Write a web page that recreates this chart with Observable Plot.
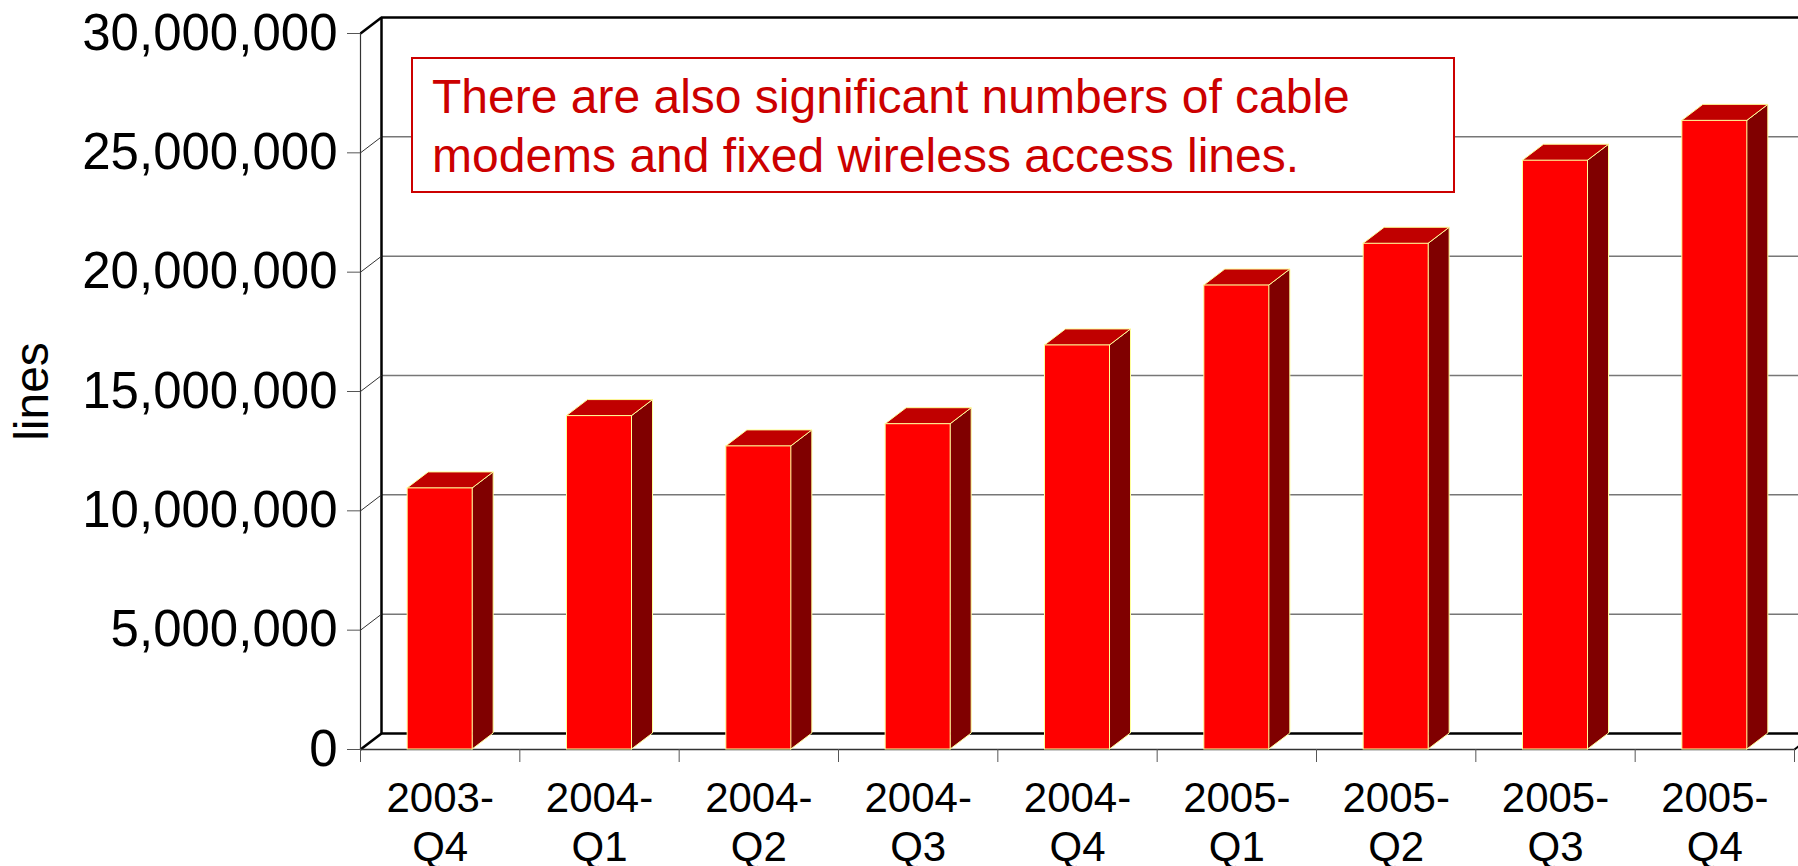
<!DOCTYPE html>
<html>
<head>
<meta charset="utf-8">
<script src="https://cdn.jsdelivr.net/npm/d3@7"></script>
<script src="https://cdn.jsdelivr.net/npm/@observablehq/plot@0.6"></script>
<style>
  body { margin: 0; background: #fff; }
  #wrap { position: relative; width: 1798px; height: 866px; overflow: hidden; }
  #note {
    position: absolute; left: 411px; top: 57px; width: 1044px; height: 136px;
    box-sizing: border-box; border: 2px solid #cc0000; background: #fff; color: #cc0000;
    font: 48px/59px "Liberation Sans", Arial, sans-serif; padding: 8px 0 0 19px; white-space: nowrap;
  }
</style>
</head>
<body>
<div id="wrap"><div id="chart"></div><div id="note"></div></div>
<script>
// ---- data ----
const categories = ["2003-Q4", "2004-Q1", "2004-Q2", "2004-Q3", "2004-Q4", "2005-Q1", "2005-Q2", "2005-Q3", "2005-Q4"];
const lineCounts = [10940000, 13970000, 12700000, 13630000, 16930000, 19440000, 21190000, 24670000, 26340000];
const yTicks = [0, 5000000, 10000000, 15000000, 20000000, 25000000, 30000000];
const yLabel = "lines";
const noteLines = ["There are also significant numbers of cable", "modems and fixed wireless access lines."];

// ---- style constants ----
const DX = 0.1318;   // 3D depth, in category units
const DY = 670000;   // 3D depth, in value units
const HALF = 0.204;  // half bar width, in category units
const FONT = "'Liberation Sans', Arial, sans-serif";
const EDGE = "#ffff99";

const bars = categories.map((c, i) => ({c, i, v: lineCounts[i]}));
const sideData = bars.flatMap(b => [
  {c: b.c, x: b.i + 0.5 + HALF, y1: 0, y2: b.v},
  {c: b.c, x: b.i + 0.5 + HALF + DX, y1: DY, y2: b.v + DY}
]);
const topData = bars.flatMap(b => [
  {c: b.c, y: b.v, x1: b.i + 0.5 - HALF, x2: b.i + 0.5 + HALF},
  {c: b.c, y: b.v + DY, x1: b.i + 0.5 - HALF + DX, x2: b.i + 0.5 + HALF + DX}
]);
const n = categories.length;
const yMax = yTicks[yTicks.length - 1];
const inner = yTicks.filter(t => t > 0 && t < yMax);

const chart = Plot.plot({
  width: 1798,
  height: 866,
  marginLeft: 360,
  marginRight: 4,
  marginTop: 33,
  marginBottom: 117,
  style: {fontFamily: FONT, background: "#fff", overflow: "visible"},
  x: {type: "linear", domain: [0, n], axis: null},
  y: {domain: [0, yMax], axis: null},
  marks: [
    // back wall gridlines
    Plot.ruleY(inner, {y: t => t + DY, x1: DX, x2: n + 1, stroke: "#777", strokeWidth: 1.5}),
    Plot.ruleY([0, yMax], {y: t => t + DY, x1: DX, x2: n + 1, stroke: "#000", strokeWidth: 2.5}),
    Plot.ruleX([DX], {y1: DY, y2: yMax + DY, stroke: "#000", strokeWidth: 2.5}),
    // left side wall diagonals
    Plot.link(inner, {x1: 0, y1: t => t, x2: DX, y2: t => t + DY, stroke: "#333", strokeWidth: 1}),
    Plot.link([0, yMax], {x1: 0, y1: t => t, x2: DX, y2: t => t + DY, stroke: "#000", strokeWidth: 2.5}),
    Plot.link([0], {x1: n, y1: 0, x2: n + DX, y2: DY, stroke: "#000", strokeWidth: 2}),
    // front axis lines
    Plot.ruleX([0], {y1: 0, y2: yMax, stroke: "#333", strokeWidth: 1.2}),
    Plot.ruleY([0], {x1: 0, x2: n, stroke: "#333", strokeWidth: 1.5}),
    // bars: side, top, front
    Plot.areaY(sideData, {x: "x", y1: "y1", y2: "y2", z: "c", fill: "#800000", stroke: EDGE, strokeWidth: 1}),
    Plot.areaX(topData, {y: "y", x1: "x1", x2: "x2", z: "c", fill: "#c00000", stroke: EDGE, strokeWidth: 1}),
    Plot.rectY(bars, {x1: b => b.i + 0.5 - HALF, x2: b => b.i + 0.5 + HALF, y1: 0, y2: "v", fill: "#ff0000", stroke: EDGE, strokeWidth: 1}),
    // axes
    Plot.axisY(yTicks, {tickSize: 13, tickPadding: 10, fontSize: 51, tickFormat: d3.format(","), stroke: "#555", fill: "#000", label: null}),
    Plot.axisX(d3.range(n + 1), {tickSize: 13, tickFormat: () => "", stroke: "#555", label: null}),
    Plot.axisX(categories.map((c, i) => i + 0.5), {
      tickSize: 0, tickPadding: 28, fontSize: 42, lineHeight: 1.167, fill: "#000", label: null,
      tickFormat: d => categories[Math.floor(d)].replace("-", "-\n")
    }),
    Plot.text([yLabel], {text: d => d, frameAnchor: "left", textAnchor: "middle", dx: -328, rotate: -90, fontSize: 48, fill: "#000"})
  ]
});
document.getElementById("chart").appendChild(chart);
document.getElementById("note").innerHTML = noteLines.join("<br>");
</script>
</body>
</html>
